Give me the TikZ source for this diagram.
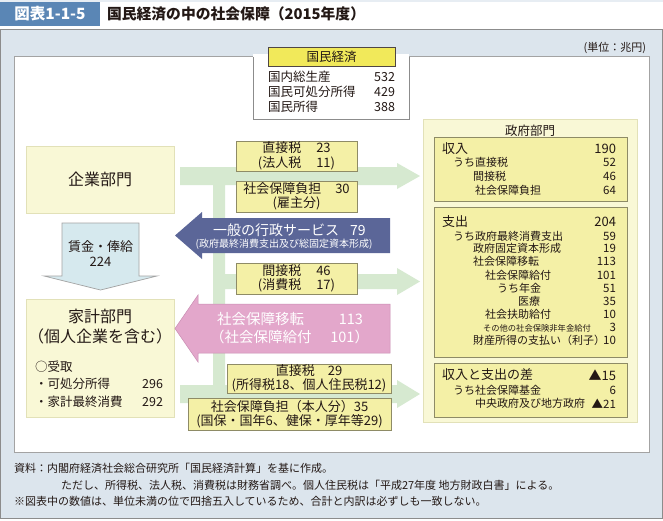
\documentclass[tikz,border=0pt]{standalone}
\usepackage{fontspec}
\setmainfont{Noto Sans CJK JP}
\newcommand\fsz[2]{\fontsize{#1pt}{#2pt}\selectfont}
\definecolor{ink}{HTML}{231815}
\definecolor{hdrblue}{HTML}{5A86B5}
\definecolor{panelfill}{HTML}{DCE5ED}
\definecolor{panelline}{HTML}{8C8C8C}
\definecolor{creamfill}{HTML}{F9F8D6}
\definecolor{creamline}{HTML}{E2E1B8}
\definecolor{ylabfill}{HTML}{F4F0A6}
\definecolor{ylabline}{HTML}{8E8B66}
\definecolor{kokufill}{HTML}{F1E95A}
\definecolor{greenflow}{HTML}{D6E9D0}
\definecolor{bluearrow}{HTML}{5B6698}
\definecolor{pinkarrow}{HTML}{E3A7CB}
\definecolor{pinkline}{HTML}{C98DB2}
\definecolor{wagefill}{HTML}{D6E9EE}
\definecolor{wageline}{HTML}{A3A3A3}
\tikzset{
  every node/.style={inner sep=0pt, outer sep=0pt, text=ink},
  cream/.style={fill=creamfill, draw=creamline, line width=0.7pt},
  ylab/.style={fill=ylabfill, draw=ylabline, line width=0.6pt, align=center, font=\fsz{13}{14.5}},
  row/.style={anchor=west, font=\fsz{11}{12}},
  val/.style={anchor=east, font=\fsz{11.5}{12}},
  big/.style={font=\fsz{13}{14}},
}
\begin{document}
\begin{tikzpicture}[x=1pt,y=-1pt]
\useasboundingbox (0,0) rectangle (663,520);
% header
\fill[white] (0,0) rectangle (663,29);
\fill[panelfill!80!hdrblue!40] (0,0) rectangle (663,1.5);
\fill[hdrblue] (0,2) rectangle (100,26);
\node[text=white, font=\bfseries\fsz{15.5}{16}] (hdrno) at (50,14) {図表1-1-5};
\node[anchor=west, font=\bfseries\fsz{14.8}{16}] (hdrtitle) at (107,14) {国民経済の中の社会保障（2015年度）};
% panel
\draw[fill=panelfill, draw=panelline, line width=0.8pt] (0.6,29.5) rectangle (662.4,518);
\draw[fill=white, draw=panelline!80, line width=0.7pt] (14,56) rectangle (649,452);
\node[anchor=east, font=\fsz{11}{12}] (unit) at (646,48) {(単位：兆円)};
% kokumin keizai
\fill[white] (253,54) rectangle (409,119);
\draw[draw=panelline, line width=0.7pt] (253,57) -- (253,119) -- (409,119) -- (409,57);
\node[fill=kokufill, draw=ink!80, line width=0.6pt, minimum width=127pt, minimum height=19pt, font=\fsz{12.5}{13}] (koku) at (331.5,56.5) {国民経済};
\node[row, font=\fsz{12.5}{13}] (k1) at (268,77) {国内総生産};
\node[val, font=\fsz{12.5}{13}] (k1v) at (395,77) {532};
\node[row, font=\fsz{12.5}{13}] (k2) at (268,92) {国民可処分所得};
\node[val, font=\fsz{12.5}{13}] (k2v) at (395,92) {429};
\node[row, font=\fsz{12.5}{13}] (k3) at (268,107) {国民所得};
\node[val, font=\fsz{12.5}{13}] (k3v) at (395,107) {388};
% green flow
\fill[greenflow] (180,167) -- (397,167) -- (397,163) -- (420,176) -- (397,189) -- (397,185)
  -- (225,185) -- (225,274) -- (397,274) -- (397,268) -- (420,281.5) -- (397,295) -- (397,289)
  -- (225,289) -- (225,385) -- (397,385) -- (397,380) -- (420,394) -- (397,408) -- (397,403)
  -- (180,403) -- (180,385) -- (213,385) -- (213,185) -- (180,185) -- cycle;
% kigyo
\node[cream, minimum width=148pt, minimum height=67pt, font=\fsz{16}{17}] (kigyo) at (100,179.5) {企業部門};
% wage arrow
\draw[fill=wagefill, draw=wageline, line width=0.7pt] (62,223) -- (139,223) -- (139,276) -- (157,276) -- (100.5,290) -- (44,276) -- (62,276) -- cycle;
\node[font=\fsz{13}{14}] (wage1) at (100.5,247) {賃金・俸給};
\node[font=\fsz{13}{14}] (wage2) at (100.5,262) {224};
% kakei
\node[cream, minimum width=148pt, minimum height=118pt] (kakei) at (100,358) {};
\node[font=\fsz{16}{17}] (kakei1) at (100,316) {家計部門};
\node[font=\fsz{16}{17}] (kakei2) at (100,336) {（個人企業を含む）};
\node[row, font=\fsz{12.5}{13}] (kk1) at (35,367) {○受取};
\node[row, font=\fsz{12.5}{13}] (kk2) at (35,384) {・可処分所得};
\node[val, font=\fsz{12.5}{13}] (kk2v) at (163,384) {296};
\node[row, font=\fsz{12.5}{13}] (kk3) at (35,402) {・家計最終消費};
\node[val, font=\fsz{12.5}{13}] (kk3v) at (163,402) {292};
% yellow labels
\node[ylab, minimum width=121pt, minimum height=30pt] (tax1) at (296.5,156) {直接税\hspace{15pt}23\\(法人税\hspace{15pt}11)};
\node[ylab, minimum width=121pt, minimum height=31pt] (ss1) at (296.5,196.5) {社会保障負担\hspace{14pt}30\\(雇主分)};
\node[ylab, minimum width=121pt, minimum height=31pt] (tax2) at (296.5,278.5) {間接税\hspace{15pt}46\\(消費税\hspace{15pt}17)};
\node[ylab, minimum width=164pt, minimum height=29pt] (tax3) at (309,378.5) {直接税\hspace{13pt}29\\(所得税18、個人住民税12)};
\node[ylab, minimum width=203pt, minimum height=32pt] (ss2) at (289.5,414) {社会保障負担（本人分）35\\(国保・国年6、健保・厚年等29)};
% blue arrow
\fill[bluearrow] (390,218) -- (202,218) -- (202,212) -- (175,235.5) -- (202,259) -- (202,253) -- (390,253) -- cycle;
\node[text=white, font=\fsz{14}{15}] (gov1) at (289.5,230.5) {一般の行政サービス\hspace{11pt}79};
\node[text=white, font=\fsz{10}{11}] (gov2) at (284,244) {(政府最終消費支出及び総固定資本形成)};
% pink arrow
\draw[fill=pinkarrow, draw=pinkline, line width=0.5pt] (390,304) -- (198,304) -- (198,295) -- (175,328.5) -- (198,362) -- (198,353) -- (390,353) -- cycle;
\node[anchor=west, text=white, font=\fsz{14.5}{15}] (st1) at (217,319) {社会保障移転};
\node[anchor=east, text=white, font=\fsz{14.5}{15}] (st1v) at (363,319) {113};
\node[anchor=west, text=white, font=\fsz{14.5}{15}] (st2) at (210,337) {（社会保障給付};
\node[anchor=east, text=white, font=\fsz{14.5}{15}] (st2v) at (369,337) {101）};
% government
\node[cream, minimum width=214pt, minimum height=303pt] (gov) at (530,270.5) {};
\node[font=\fsz{12.5}{13}] (govt) at (530,131) {政府部門};
\node[ylab, minimum width=193pt, minimum height=64pt] (inc) at (530.5,169) {};
\node[ylab, minimum width=193pt, minimum height=150pt] (exp) at (530.5,282) {};
\node[ylab, minimum width=193pt, minimum height=54pt] (bal) at (530.5,390) {};
% income rows
\node[row, big] (i0) at (442,149) {収入};
\node[val, big] (i0v) at (616,149) {190};
\node[row] (i1) at (453,162.5) {うち直接税};
\node[val] (i1v) at (616,162.5) {52};
\node[row] (i2) at (473,176.5) {間接税};
\node[val] (i2v) at (616,176.5) {46};
\node[row] (i3) at (475,190) {社会保障負担};
\node[val] (i3v) at (616,190) {64};
% expenditure rows
\node[row, big] (e0) at (442,222) {支出};
\node[val, big] (e0v) at (616,222) {204};
\node[row] (e1) at (453,236) {うち政府最終消費支出};
\node[val] (e1v) at (616,236) {59};
\node[row] (e2) at (473,248.5) {政府固定資本形成};
\node[val] (e2v) at (616,248.5) {19};
\node[row] (e3) at (473,261.5) {社会保障移転};
\node[val] (e3v) at (616,261.5) {113};
\node[row] (e4) at (485,275.5) {社会保障給付};
\node[val] (e4v) at (616,275.5) {101};
\node[row] (e5) at (497,288) {うち年金};
\node[val] (e5v) at (616,288) {51};
\node[row] (e6) at (518,301.5) {医療};
\node[val] (e6v) at (616,301.5) {35};
\node[row] (e7) at (485,314.5) {社会扶助給付};
\node[val] (e7v) at (616,314.5) {10};
\node[row, font=\fsz{8.3}{9}] (e8) at (483,328) {その他の社会保険非年金給付};
\node[val] (e8v) at (616,327) {3};
\node[row] (e9) at (473,340.5) {財産所得の支払い（利子）};
\node[val] (e9v) at (616,340.5) {10};
% balance rows
\node[row, big] (b0) at (442,375) {収入と支出の差};
\node[val, big] (b0v) at (616,375) {▲15};
\node[row] (b1) at (453,390.5) {うち社会保障基金};
\node[val] (b1v) at (616,390.5) {6};
\node[row] (b2) at (475,403.5) {中央政府及び地方政府};
\node[val] (b2v) at (616,403.5) {▲21};
% footer
\node[row] (f1) at (14,468) {資料：内閣府経済社会総合研究所「国民経済計算」を基に作成。};
\node[row] (f2) at (61,485) {ただし、所得税、法人税、消費税は財務省調べ。個人住民税は「平成27年度 地方財政白書」による。};
\node[row] (f3) at (14,501) {※図表中の数値は、単位未満の位で四捨五入しているため、合計と内訳は必ずしも一致しない。};
\end{tikzpicture}
\end{document}
